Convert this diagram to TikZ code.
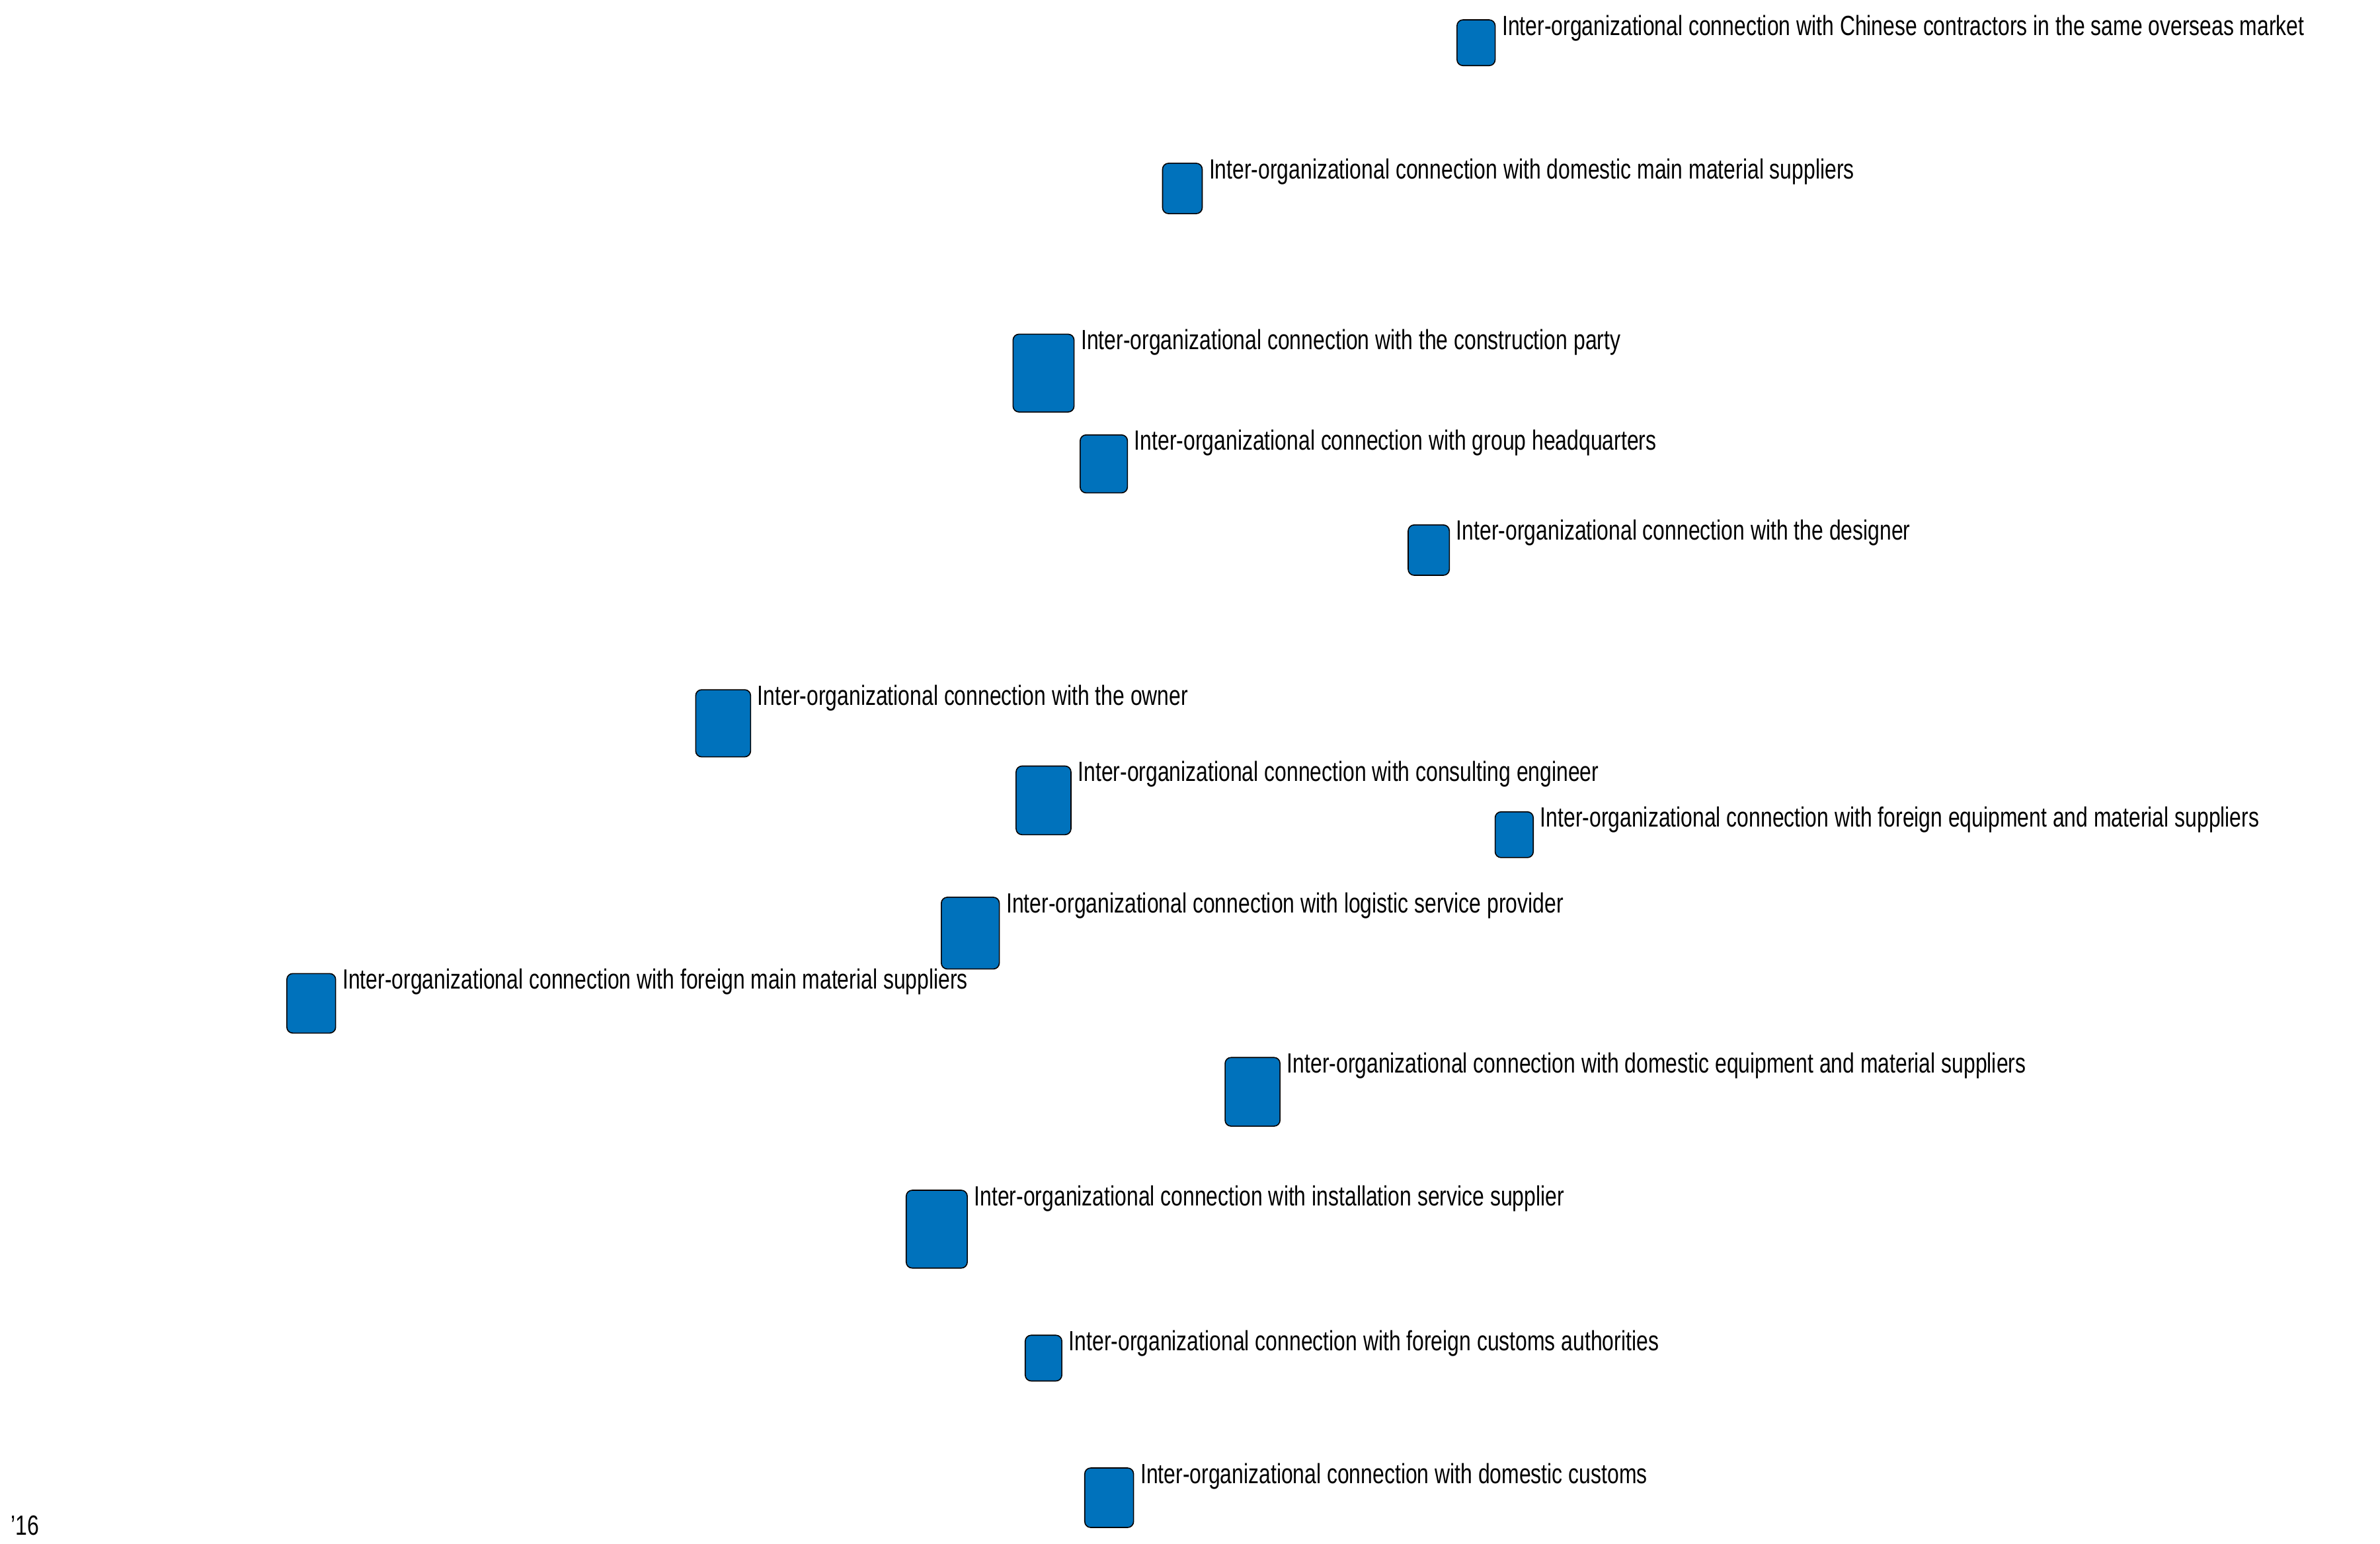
\documentclass[tikz,border=0pt]{standalone}
\usepackage{fontspec}
\setmainfont{Liberation Sans}[FakeStretch=0.76]
\begin{document}
\begin{tikzpicture}[x=2.3077pt,y=-2.3077pt,
  box/.style={draw=black,line width=1.6pt,fill={rgb,255:red,0;green,114;blue,188},rounded corners=9pt},
  lab/.style={anchor=base west,inner sep=0pt,font=\fontsize{42pt}{46pt}\selectfont}]
\useasboundingbox (0,0) rectangle (1560,1011.8);
\newcommand{\nd}[6]{%
  \draw[box] (#2,#3) rectangle (#4,#5);
  \node[lab] (#1) at (#4+4.5,#3+10) {#6};}
\nd{a}{955}{13}{980}{43}{Inter-organizational connection with Chinese contractors in the same overseas market}
\nd{b}{762}{107}{788}{140}{Inter-organizational connection with domestic main material suppliers}
\nd{c}{664}{219}{704}{270}{Inter-organizational connection with the construction party}
\nd{d}{708}{285}{739}{323}{Inter-organizational connection with group headquarters}
\nd{e}{923}{344}{950}{377}{Inter-organizational connection with the designer}
\nd{f}{456}{452}{492}{496}{Inter-organizational connection with the owner}
\nd{g}{666}{502}{702}{547}{Inter-organizational connection with consulting engineer}
\nd{h}{980}{532}{1005}{562}{Inter-organizational connection with foreign equipment and material suppliers}
\nd{i}{617}{588}{655}{635}{Inter-organizational connection with logistic service provider}
\nd{j}{188}{638}{220}{677}{Inter-organizational connection with foreign main material suppliers}
\nd{k}{803}{693}{839}{738}{Inter-organizational connection with domestic equipment and material suppliers}
\nd{l}{594}{780}{634}{831}{Inter-organizational connection with installation service supplier}
\nd{m}{672}{875}{696}{905}{Inter-organizational connection with foreign customs authorities}
\nd{n}{711}{962}{743}{1001}{Inter-organizational connection with domestic customs}
\node[lab] (t) at (7,1006) {'16};
\end{tikzpicture}
\end{document}
